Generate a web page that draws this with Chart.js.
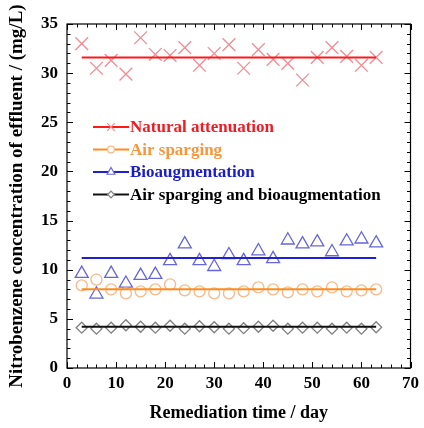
<!DOCTYPE html>
<html>
<head>
<meta charset="utf-8">
<script src="https://cdn.jsdelivr.net/npm/chart.js@4/dist/chart.umd.min.js"></script>
<style>
  body { margin: 0; background: #fff; }
  canvas { display: block; }
</style>
</head>
<body>
<canvas id="myChart" width="424" height="428"></canvas>
<script>
// data
const days = [3, 6, 9, 12, 15, 18, 21, 24, 27, 30, 33, 36, 39, 42, 45, 48, 51, 54, 57, 60, 63];
const natural = [33.0, 30.5, 31.3, 29.9, 33.6, 31.9, 31.8, 32.6, 30.8, 32.0, 32.9, 30.5, 32.4, 31.4, 31.0, 29.3, 31.6, 32.6, 31.7, 30.8, 31.6];
const airSparging = [8.4, 9.0, 8.0, 7.6, 7.8, 8.0, 8.5, 7.9, 7.8, 7.6, 7.6, 7.8, 8.2, 8.0, 7.7, 8.0, 7.8, 8.2, 7.8, 7.9, 8.0];
const bioaug = [9.6, 7.5, 9.6, 8.6, 9.4, 9.5, 10.9, 12.6, 10.9, 10.3, 11.5, 10.9, 11.9, 11.1, 13.0, 12.6, 12.8, 11.8, 12.9, 13.1, 12.7];
const combined = [4.1, 4.0, 4.1, 4.35, 4.2, 4.1, 4.3, 4.0, 4.25, 4.15, 4.0, 4.05, 4.2, 4.3, 4.0, 4.1, 4.1, 4.0, 4.1, 4.0, 4.15];
const meanLevels = [31.6, 8.0, 11.2, 4.2];
const seriesNames = ['Natural attenuation', 'Air sparging', 'Bioaugmentation', 'Air sparging and bioaugmentation'];

const lineColors = ['#ff1a1a', '#ff8c1f', '#1f1fd6', '#111111'];
const markColors = ['#f28b93', '#f8b98a', '#6666d8', '#808080'];
const textColors = ['#f01c24', '#f5973f', '#1c1cc8', '#000000'];
const markStyles = ['crossRot', 'circle', 'triangle', 'rectRot'];
const markRadius = [9, 5.5, 7.5, 5.5];

const serifFamily = '"Liberation Serif", "Times New Roman", serif';
const tickFont = { family: serifFamily, weight: 'bold', size: 17 };

const allSeries = [natural, airSparging, bioaug, combined];
const datasets = [];
allSeries.forEach(function(vals, i) {
    // mean line
    datasets.push({
        type: 'line',
        label: seriesNames[i] + ' line',
        data: [{ x: days[0], y: meanLevels[i] }, { x: days[days.length - 1], y: meanLevels[i] }],
        borderColor: lineColors[i],
        borderWidth: 2,
        pointRadius: 0,
        showLine: true,
        order: 0
    });
    // measured points
    datasets.push({
        type: 'scatter',
        label: seriesNames[i],
        data: days.map(function(d, k) { return { x: d, y: vals[k] }; }),
        pointStyle: markStyles[i],
        pointRadius: markRadius[i],
        borderColor: markColors[i],
        backgroundColor: 'rgba(0,0,0,0)',
        pointBorderWidth: 1.3,
        order: 1
    });
});

// box + inward ticks on all four sides
const frameTicks = {
    id: 'frameTicks',
    afterDatasetsDraw(chart) {
        const ctx = chart.ctx;
        const a = chart.chartArea;
        const xs = chart.scales.x, ys = chart.scales.y;
        ctx.save();
        ctx.strokeStyle = '#000';
        ctx.lineWidth = 1.2;
        ctx.strokeRect(a.left, a.top, a.right - a.left, a.bottom - a.top);
        ctx.lineWidth = 1;
        ctx.beginPath();
        for (let v = xs.min; v <= xs.max; v += 2) {
            const px = Math.round(xs.getPixelForValue(v)) + 0.5;
            const len = v % 10 === 0 ? 6 : 3.5;
            ctx.moveTo(px, a.bottom); ctx.lineTo(px, a.bottom - len);
            ctx.moveTo(px, a.top); ctx.lineTo(px, a.top + len);
        }
        for (let v = ys.min; v <= ys.max; v += 1) {
            const py = Math.round(ys.getPixelForValue(v)) + 0.5;
            const len = v % 5 === 0 ? 6 : 3.5;
            ctx.moveTo(a.left, py); ctx.lineTo(a.left + len, py);
            ctx.moveTo(a.right, py); ctx.lineTo(a.right - len, py);
        }
        ctx.stroke();
        ctx.restore();
    }
};

// legend inside the plot
const innerLegend = {
    id: 'innerLegend',
    afterDraw(chart) {
        const ctx = chart.ctx;
        const a = chart.chartArea;
        const x0 = a.left + 26;
        ctx.save();
        ctx.font = 'bold 17px ' + serifFamily;
        ctx.textBaseline = 'middle';
        seriesNames.forEach(function(name, i) {
            const y = a.top + 103 + i * 22.5;
            ctx.strokeStyle = lineColors[i];
            ctx.lineWidth = 2;
            ctx.beginPath();
            ctx.moveTo(x0, y); ctx.lineTo(x0 + 36, y);
            ctx.stroke();
            ctx.strokeStyle = markColors[i];
            ctx.fillStyle = '#ffffff';
            ctx.lineWidth = 1.2;
            Chart.helpers.drawPoint(ctx, { pointStyle: markStyles[i], radius: markRadius[i] * 0.6, borderWidth: 1.2 }, x0 + 18, y);
            ctx.fillStyle = textColors[i];
            ctx.fillText(name, x0 + 37, y + 1);
        });
        ctx.restore();
    }
};

let chartArea = document.getElementById('myChart').getContext('2d');

const myChart = new Chart(chartArea, {
    type: 'scatter',
    data: { datasets: datasets },
    plugins: [frameTicks, innerLegend],
    options: {
        responsive: false,
        animation: false,
        layout: { padding: { top: 24, right: 11, left: 0, bottom: 0 } },
        plugins: {
            legend: { display: false },
            tooltip: { enabled: false }
        },
        scales: {
            x: {
                type: 'linear',
                min: 0,
                max: 70,
                ticks: { stepSize: 10, padding: 5, color: '#000', font: tickFont, maxRotation: 0 },
                grid: { display: false, drawTicks: false },
                border: { display: false },
                title: { display: true, text: 'Remediation time / day', color: '#000', font: { family: serifFamily, weight: 'bold', size: 18 }, padding: { top: 0, bottom: 4 } },
                afterFit(s) { s.height = 60; }
            },
            y: {
                min: 0,
                max: 35,
                ticks: { stepSize: 5, padding: 9, color: '#000', font: tickFont },
                grid: { display: false, drawTicks: false },
                border: { display: false },
                title: { display: true, text: 'Nitrobenzene concentration of effluent / (mg/L)', color: '#000', font: { family: serifFamily, weight: 'bold', size: 19 }, padding: { top: 6, bottom: 0 } },
                afterFit(s) { s.width = 67; }
            }
        }
    }
});
</script>
</body>
</html>
